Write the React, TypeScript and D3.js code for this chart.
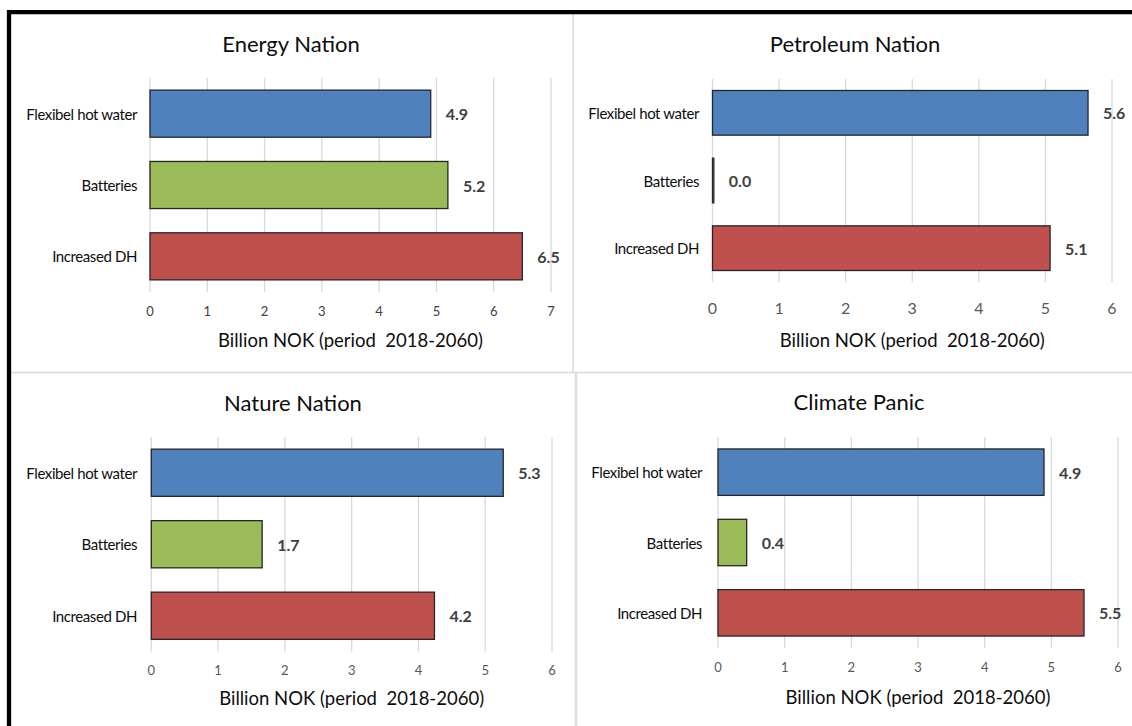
import React from "react";
import * as d3 from "d3";

// ---- data ----
const categories = ["Flexibel hot water", "Batteries", "Increased DH"];
const panelTitles = ["Energy Nation", "Petroleum Nation", "Nature Nation", "Climate Panic"];
const energyNation = [4.9, 5.2, 6.5];
const petroleumNation = [5.64, 0.02, 5.07];
const natureNation = [5.27, 1.66, 4.24];
const climatePanic = [4.89, 0.43, 5.49];
const axisMax = [7, 6, 6, 6];
const axisTitle = "Billion NOK (period  2018-2060)";
const seriesValues = [energyNation, petroleumNation, natureNation, climatePanic];

const barColors = ["#4F81BD", "#9BBB59", "#C0504D"];

// ---- layout ----
const layouts = [
  { x0: 150, x1: 551, yTop: 78, yBot: 292, titleX: 291, titleY: 43, tickY: 311, tickSize: 13, tickColor: "#404040", axisY: 340, labelX: 137 },
  { x0: 712.5, x1: 1112, yTop: 79, yBot: 282, titleX: 855, titleY: 43, tickY: 307.5, tickSize: 16, tickColor: "#595959", axisY: 340, labelX: 699 },
  { x0: 151.3, x1: 552, yTop: 437, yBot: 651.5, titleX: 293, titleY: 402.5, tickY: 670, tickSize: 13, tickColor: "#595959", axisY: 698, labelX: 137 },
  { x0: 718, x1: 1118, yTop: 437, yBot: 648, titleX: 859, titleY: 401.5, tickY: 667, tickSize: 13, tickColor: "#595959", axisY: 696.5, labelX: 702 },
];

const FONT = "Lato, 'Open Sans', sans-serif";
const fmt = d3.format(".1f");

function Panel({ idx }: { idx: number }) {
  const L = layouts[idx];
  const values = seriesValues[idx];
  const x = d3.scaleLinear().domain([0, axisMax[idx]]).range([L.x0, L.x1]);
  const y = d3.scaleBand<string>().domain(categories).range([L.yTop, L.yBot]).paddingInner(0.34).paddingOuter(0.17);
  const ticks = d3.range(0, axisMax[idx] + 1);
  return (
    <g>
      <text x={L.titleX} y={L.titleY} textAnchor="middle" dominantBaseline="central" fontFamily={FONT} fontSize={22} fill="#0d0d0d">
        {panelTitles[idx]}
      </text>
      {ticks.map((t) => (
        <line key={"g" + t} x1={x(t)} x2={x(t)} y1={L.yTop} y2={L.yBot} stroke="#d9d9d9" strokeWidth={1.3} />
      ))}
      {categories.map((c, i) => (
        <g key={c}>
          <rect
            x={x(0)}
            y={y(c)!}
            width={Math.max(0, x(values[i]) - x(0))}
            height={y.bandwidth()}
            fill={barColors[i]}
            stroke="#262626"
            strokeWidth={1.3}
          />
          <text x={L.labelX} y={y(c)! + y.bandwidth() / 2} textAnchor="end" dominantBaseline="central" fontFamily={FONT} fontSize={15} fill="#0d0d0d" letterSpacing={-0.4}>
            {c}
          </text>
          <text x={x(values[i]) + 15} y={y(c)! + y.bandwidth() / 2} dominantBaseline="central" fontFamily={FONT} fontWeight="bold" fontSize={16} fill="#404040">
            {fmt(values[i])}
          </text>
        </g>
      ))}
      {ticks.map((t) => (
        <text key={"t" + t} x={x(t)} y={L.tickY} textAnchor="middle" dominantBaseline="central" fontFamily={FONT} fontSize={L.tickSize} fill={L.tickColor}>
          {t}
        </text>
      ))}
      <text x={(L.x0 + L.x1) / 2} y={L.axisY} textAnchor="middle" dominantBaseline="central" fontFamily={FONT} fontSize={18.5} fill="#0d0d0d" style={{ whiteSpace: "pre" }}>
        {axisTitle}
      </text>
    </g>
  );
}

export default function App() {
  return (
    <div style={{ position: "absolute", left: 0, top: 0 }}>
      <svg width={1132} height={726} style={{ display: "block", background: "#fff" }}>
        <rect x={0} y={0} width={1132} height={726} fill="#fff" />
        {/* panel dividers */}
        <line x1={11} x2={1132} y1={372.5} y2={372.5} stroke="#d9d9d9" strokeWidth={1.5} />
        <line x1={573} x2={573} y1={14} y2={372} stroke="#d9d9d9" strokeWidth={1.5} />
        <line x1={576} x2={576} y1={373} y2={726} stroke="#e0e0e0" strokeWidth={3} />
        {/* outer frame */}
        <line x1={9} x2={9} y1={10} y2={726} stroke="#000" strokeWidth={4.3} />
        <line x1={7} x2={1132} y1={12.2} y2={12.2} stroke="#000" strokeWidth={4.3} />
        {[0, 1, 2, 3].map((i) => (
          <Panel key={i} idx={i} />
        ))}
      </svg>
    </div>
  );
}
